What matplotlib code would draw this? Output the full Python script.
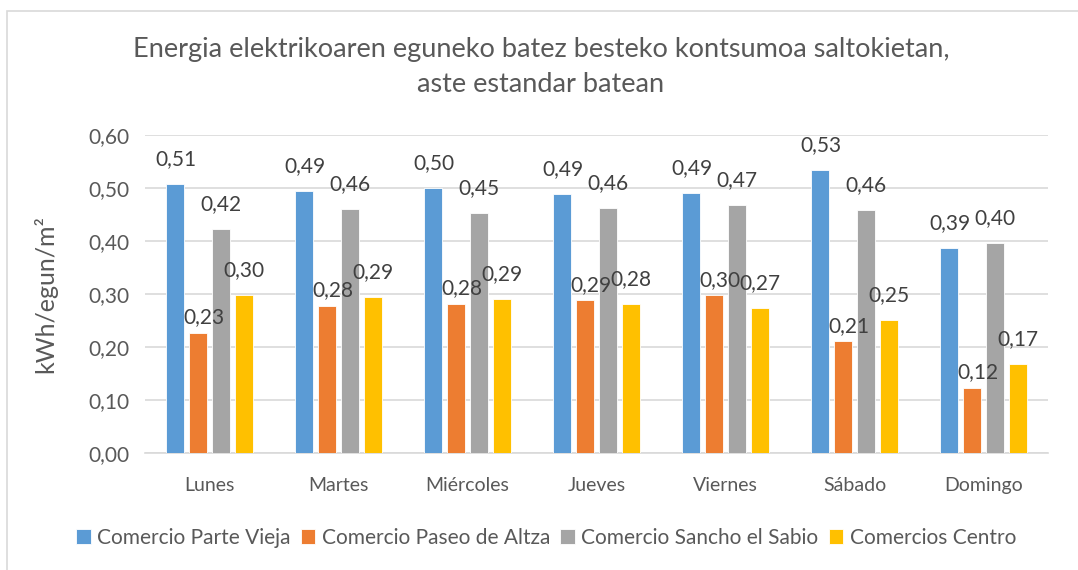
import numpy as np
import matplotlib
matplotlib.use("Agg")
import matplotlib.pyplot as plt
from matplotlib.patches import Rectangle
from matplotlib.ticker import FuncFormatter

plt.rcParams['font.family'] = ['Lato', 'DejaVu Sans']

DAYS = ["Lunes", "Martes", "Miércoles", "Jueves", "Viernes", "Sábado", "Domingo"]
SERIES = ["Comercio Parte Vieja", "Comercio Paseo de Altza",
          "Comercio Sancho el Sabio", "Comercios Centro"]
PARTE_VIEJA = [0.507, 0.494, 0.500, 0.488, 0.491, 0.534, 0.386]
PASEO_ALTZA = [0.227, 0.278, 0.282, 0.288, 0.298, 0.211, 0.123]
SANCHO = [0.422, 0.460, 0.452, 0.463, 0.467, 0.459, 0.396]
CENTRO = [0.298, 0.294, 0.290, 0.281, 0.273, 0.251, 0.168]

COLORS = ["#5B9BD5", "#ED7D31", "#A5A5A5", "#FFC000"]
TXT = "#595959"

W, H = 1078, 570
fig = plt.figure(figsize=(W / 100, H / 100), dpi=100)

# chart border (Excel style)
fig.patches.append(Rectangle((7 / W, -0.1), 1.2, 1 - 11 / H + 0.1,
                             transform=fig.transFigure, fill=False,
                             edgecolor="#D9D9D9", lw=1.2))

ax = fig.add_axes([145 / W, 1 - 453 / H, (1048 - 145) / W, (453 - 135) / H])

x = np.arange(len(DAYS))
step = 0.176
bw = 0.14
data = [PARTE_VIEJA, PASEO_ALTZA, SANCHO, CENTRO]
for k, (vals, name, col) in enumerate(zip(data, SERIES, COLORS)):
    pos = x + (k - 1.5) * step
    ax.bar(pos, vals, width=bw, color=col, edgecolor="white", linewidth=0.6,
           label=name, zorder=3)
    # labels: Altza labels sit lower and slightly to the right
    dx, dy = (4, 11) if k == 1 else (0, 18)
    for p, v in zip(pos, vals):
        ax.annotate(f"{v:.2f}".replace(".", ","), (p, v), xytext=(dx, dy),
                    textcoords="offset points", ha="center", va="center",
                    fontsize=15, color="#404040", zorder=4)

ax.set_ylim(0, 0.6)
ax.set_xlim(-0.5, len(DAYS) - 0.5)
ax.set_yticks(np.arange(0, 0.61, 0.1))
ax.yaxis.set_major_formatter(FuncFormatter(lambda v, _: f"{v:.2f}".replace(".", ",")))
ax.set_xticks(x)
ax.set_xticklabels(DAYS)
ax.tick_params(length=0, labelcolor=TXT)
ax.tick_params(axis="x", labelsize=14, pad=17)
ax.tick_params(axis="y", labelsize=15, pad=11)
ax.grid(axis="y", color="#D9D9D9", lw=1.2, zorder=0)
for s in ["top", "right", "left"]:
    ax.spines[s].set_visible(False)
ax.spines["bottom"].set_color("#D9D9D9")
ax.spines["bottom"].set_linewidth(1.2)

ax.set_ylabel("kWh/egun/m²", fontsize=18, color=TXT)
ax.yaxis.set_label_coords(57 / W, 1 - 294 / H, transform=fig.transFigure)

fig.text(541 / W, 1 - 49 / H,
         "Energia elektrikoaren eguneko batez besteko kontsumoa saltokietan,",
         ha="center", va="center", fontsize=19.5, color=TXT)
fig.text(541 / W, 1 - 85 / H, "aste estandar batean",
         ha="center", va="center", fontsize=19.5, color=TXT)

fig.legend(loc="center", bbox_to_anchor=(546 / W, 1 - 538 / H), ncol=4,
           frameon=False, fontsize=15, handlelength=0.7, handleheight=0.7,
           handletextpad=0.3, columnspacing=0.5, labelcolor=TXT)

fig.savefig("out.png", dpi=100)
